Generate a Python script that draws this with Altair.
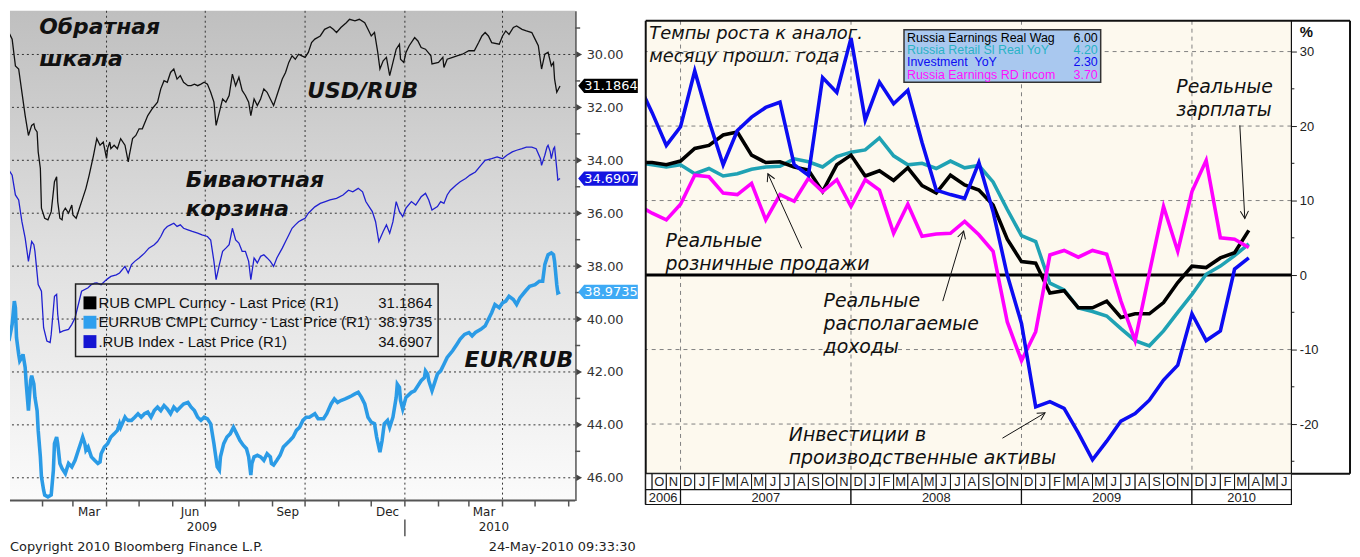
import math
import altair as alt
import pandas as pd

# =====================================================================
# LEFT PANEL (Bloomberg): USD/RUB, EUR/RUB, basket - inverted scale
# =====================================================================
START_DATE = "2009-01-01"  # day counts below are days since this date

USD_DAYS = [0, 3, 6, 9, 12, 15, 18, 21, 23, 24, 26, 27, 29, 30, 33, 36, 39, 42, 44, 45,
            47, 49, 50, 52, 55, 58, 59, 62, 65, 68, 71, 74, 78, 81, 84, 87, 90, 91, 93, 94,
            97, 100, 103, 107, 110, 111, 114, 117, 120, 123, 128, 132, 137, 140, 143, 146, 149, 152, 155, 158,
            161, 165, 168, 171, 174, 177, 180, 183, 186, 189, 191, 194, 197, 200, 203, 206, 209, 212, 215, 218,
            221, 223, 226, 229, 232, 235, 238, 241, 244, 247, 252, 255, 258, 261, 264, 267, 270, 273, 276, 279,
            282, 287, 291, 296, 299, 302, 306, 311, 314, 319, 323, 328, 331, 334, 337, 340, 342, 345, 348, 351,
            354, 357, 360, 361, 364, 366, 369, 374, 377, 380, 384, 389, 390, 396, 400, 401, 404, 409, 413, 418,
            424, 429, 433, 436, 439, 442, 445, 452, 455, 458, 461, 465, 468, 473, 477, 482, 485, 488, 491, 494,
            497, 500, 502, 503, 505, 508]
USD_RUB = [29.17, 29.42, 30.43, 30.55, 31.43, 32.31, 33.06, 32.68, 32.62, 32.81, 32.93, 33.68, 34.31, 35.81, 36.19, 36.25, 35.94, 34.81, 34.62, 35.56,
           36.19, 36.25, 35.94, 35.81, 36.00, 35.69, 36.07, 36.19, 35.81, 35.44, 35.06, 34.56, 33.81, 33.18, 33.43, 33.31, 33.93, 33.56, 33.31, 33.56,
           33.43, 33.56, 33.18, 33.43, 34.06, 33.81, 33.18, 33.06, 32.81, 32.81, 32.31, 32.06, 31.80, 31.30, 30.99, 31.05, 30.68, 30.55, 30.93, 30.80,
           31.05, 31.18, 31.18, 31.12, 31.18, 31.12, 31.05, 31.12, 31.43, 31.80, 32.68, 32.18, 31.68, 31.80, 31.55, 30.74, 31.18, 30.86, 31.36, 31.55,
           31.80, 32.31, 31.68, 31.93, 31.68, 31.30, 31.43, 31.68, 31.93, 31.55, 30.93, 30.68, 30.30, 30.05, 30.18, 29.99, 30.05, 30.11, 29.92, 29.55,
           29.42, 29.30, 29.05, 28.95, 29.05, 29.17, 28.98, 28.80, 28.67, 28.73, 28.67, 28.80, 29.05, 29.30, 29.17, 29.92, 30.55, 30.24, 30.11, 30.80,
           30.30, 29.80, 29.61, 30.18, 30.30, 29.92, 29.67, 29.36, 29.49, 29.74, 29.80, 30.05, 30.36, 30.30, 30.11, 30.49, 30.18, 30.11, 30.05, 29.99,
           29.86, 29.86, 29.55, 29.30, 29.17, 29.30, 29.55, 29.61, 29.30, 29.11, 29.24, 28.98, 28.92, 29.05, 29.11, 29.17, 29.42, 29.67, 30.55, 29.99,
           29.92, 30.43, 30.30, 30.93, 31.43, 31.19]

BASKET_DAYS = [0, 3, 6, 9, 12, 15, 18, 21, 23, 24, 27, 30, 32, 35, 38, 39, 42, 44, 45, 47,
               50, 55, 58, 61, 67, 73, 76, 79, 81, 85, 90, 94, 99, 102, 107, 110, 113, 116, 120, 125,
               129, 134, 137, 140, 143, 146, 149, 152, 155, 158, 161, 165, 169, 174, 178, 183, 186, 189, 191, 194,
               197, 200, 203, 206, 209, 212, 215, 218, 221, 223, 226, 229, 232, 235, 238, 241, 244, 247, 252, 255,
               258, 261, 264, 267, 270, 273, 276, 279, 282, 287, 291, 296, 302, 308, 313, 317, 322, 326, 329, 332,
               335, 338, 341, 345, 348, 351, 354, 357, 360, 363, 366, 371, 375, 380, 384, 387, 390, 395, 398, 401,
               404, 407, 412, 416, 421, 425, 430, 435, 439, 445, 450, 455, 459, 464, 468, 473, 477, 482, 486, 490,
               491, 494, 496, 497, 499, 500, 502, 503, 505, 506, 508]
BASKET = [34.37, 34.56, 35.31, 35.50, 36.32, 36.94, 37.82, 37.07, 37.19, 37.44, 38.70, 38.95, 40.33, 40.83, 40.89, 40.58, 39.14, 39.07, 39.82, 40.51,
          40.45, 40.39, 40.20, 39.95, 38.95, 38.82, 38.70, 38.64, 38.63, 38.70, 38.51, 38.39, 38.33, 38.26, 38.01, 38.26, 37.94, 37.82, 37.69, 37.51,
          37.32, 37.19, 37.07, 36.88, 36.63, 36.50, 36.44, 36.38, 36.50, 36.44, 36.57, 36.63, 36.69, 36.75, 36.82, 36.88, 37.01, 37.82, 38.51, 37.94,
          37.44, 37.32, 37.19, 36.57, 37.01, 37.13, 37.44, 37.44, 37.82, 38.51, 37.69, 37.88, 37.63, 37.57, 37.69, 37.82, 38.01, 37.69, 37.32, 37.07,
          36.82, 36.57, 36.44, 36.32, 36.25, 36.19, 36.00, 35.88, 35.76, 35.63, 35.57, 35.50, 35.44, 35.31, 35.13, 35.19, 35.06, 35.19, 35.56, 35.75,
          35.94, 36.32, 37.07, 36.69, 36.44, 36.76, 36.32, 35.56, 35.94, 36.13, 35.81, 35.56, 35.69, 35.38, 35.25, 35.50, 35.88, 35.75, 35.56, 35.63,
          35.31, 35.13, 34.94, 34.81, 34.69, 34.56, 34.44, 34.19, 34.00, 33.94, 33.87, 33.94, 33.81, 33.68, 33.62, 33.56, 33.50, 33.50, 33.56, 33.94,
          34.19, 33.81, 33.50, 33.43, 33.68, 33.94, 33.56, 33.50, 34.31, 34.75, 34.69]

EUR_DAYS = [0, 3, 5, 6, 7, 9, 10, 12, 13, 15, 16, 18, 20, 21, 23, 24, 26, 27, 29, 30,
            32, 33, 36, 39, 41, 42, 44, 45, 47, 49, 52, 53, 55, 58, 61, 64, 67, 68, 70, 71,
            73, 76, 79, 82, 84, 85, 88, 91, 94, 97, 100, 102, 103, 107, 108, 110, 113, 116, 119, 122,
            125, 128, 131, 134, 137, 140, 143, 146, 149, 152, 155, 158, 161, 165, 168, 171, 174, 177, 180, 183,
            186, 189, 192, 194, 195, 198, 201, 204, 207, 210, 213, 216, 219, 221, 223, 224, 226, 229, 232, 235,
            238, 241, 242, 244, 247, 250, 253, 256, 259, 262, 265, 268, 271, 274, 277, 282, 285, 290, 293, 297,
            300, 303, 306, 310, 313, 316, 319, 322, 325, 328, 331, 334, 337, 339, 342, 344, 346, 349, 351, 354,
            357, 358, 360, 361, 363, 366, 371, 374, 377, 380, 383, 384, 386, 387, 390, 392, 395, 398, 401, 404,
            409, 413, 416, 420, 424, 427, 430, 435, 439, 442, 445, 448, 452, 455, 458, 461, 465, 468, 471, 476,
            480, 485, 489, 492, 494, 496, 497, 500, 502, 503, 505, 506, 508]
EUR_RUB = [40.83, 40.20, 39.32, 39.57, 40.70, 41.33, 41.58, 41.45, 41.33, 41.83, 42.46, 43.46, 42.33, 42.14, 42.46, 42.96, 43.46, 44.21, 45.21, 45.96,
           46.47, 46.65, 46.72, 46.65, 45.71, 44.71, 44.46, 44.71, 45.46, 45.65, 45.84, 45.71, 45.46, 45.59, 45.34, 44.96, 44.59, 44.46, 44.71, 44.96,
           44.84, 45.21, 45.34, 45.46, 45.40, 45.09, 44.84, 44.71, 44.46, 44.34, 44.21, 43.96, 44.09, 43.71, 43.77, 43.83, 43.83, 43.71, 43.58, 43.71,
           43.58, 43.52, 43.71, 43.46, 43.33, 43.46, 43.27, 43.40, 43.58, 43.33, 43.46, 43.33, 43.21, 43.15, 43.33, 43.46, 43.71, 43.83, 43.71, 43.77,
           43.96, 44.71, 45.59, 45.71, 45.21, 44.71, 44.46, 44.34, 44.09, 44.34, 44.59, 44.77, 44.90, 45.21, 45.90, 45.46, 45.21, 45.15, 45.21, 45.34,
           45.09, 45.21, 45.46, 45.52, 45.34, 45.15, 44.84, 44.71, 44.59, 44.46, 44.21, 44.09, 43.83, 43.71, 43.71, 43.58, 43.77, 43.77, 43.58, 43.21,
           43.02, 43.15, 43.08, 43.02, 42.96, 42.90, 42.83, 42.77, 42.96, 43.21, 43.71, 43.90, 43.96, 44.46, 45.03, 44.59, 43.96, 43.83, 44.09, 43.71,
           42.96, 42.46, 42.58, 43.08, 43.40, 42.96, 42.77, 42.71, 42.52, 42.33, 42.21, 41.96, 42.08, 42.33, 42.71, 42.46, 42.08, 41.96, 41.71, 41.45,
           41.20, 40.95, 40.76, 40.58, 40.51, 40.64, 40.51, 40.39, 40.26, 40.01, 39.76, 39.45, 39.57, 39.39, 39.32, 39.14, 39.26, 39.45, 39.20, 38.95,
           38.76, 38.70, 38.57, 38.57, 37.94, 37.69, 37.57, 37.50, 37.57, 37.82, 38.70, 39.01, 38.97]

LAST_USD, LAST_EUR, LAST_BASKET = 31.1864, 38.9735, 34.6907

LEFT_Y_TICKS = [30, 32, 34, 36, 38, 40, 42, 44, 46]
LEFT_Y_MINOR = [29, 31, 33, 35, 37, 39, 41, 43, 45]
MONTH_STARTS = ["2009-02-01", "2009-03-01", "2009-04-01", "2009-05-01", "2009-06-01", "2009-07-01",
                "2009-08-01", "2009-09-01", "2009-10-01", "2009-11-01", "2009-12-01", "2010-01-01",
                "2010-02-01", "2010-03-01", "2010-04-01", "2010-05-01", "2010-06-01"]
GRID_DATES = ["2009-04-01", "2009-07-01", "2009-10-01", "2010-01-01", "2010-04-01"]
X_LABEL_DATES = ["2009-03-16", "2009-06-17", "2009-09-15", "2009-12-16", "2010-03-15"]
X_LABELS = ["Mar", "Jun", "Sep", "Dec", "Mar"]
YEAR_LABEL_DATES = ["2009-06-28", "2010-03-24"]
YEAR_LABELS = ["2009", "2010"]
YEAR_SEP_DATES = ["2010-01-01"]
LEFT_LEGEND = ["RUB CMPL Curncy - Last Price (R1)",
               "EURRUB CMPL Curncy - Last Price (R1)",
               ".RUB Index - Last Price (R1)"]
LEFT_LEGEND_VALUES = [LAST_USD, LAST_EUR, LAST_BASKET]
LEFT_COLORS = ["#000000", "#2e9fee", "#1414d2"]

# =====================================================================
# RIGHT PANEL (Excel): y/y growth rates, monthly
# =====================================================================
MONTH_T = list(range(-3, 41))   # month index; 0 = start of the "2007" block
WAGES = [15.1, 15.1, 14.8, 15.3, 17.0, 17.4, 18.8, 19.2, 16.1, 15.1,
         15.2, 14.5, 14.1, 11.2, 14.8, 16.1, 13.3, 14.0, 12.7, 14.4,
         12.0, 11.0, 13.4, 12.1, 11.4, 9.4, 4.8, 1.8, 1.6, -2.4,
         -2.1, -4.4, -4.4, -3.5, -5.7, -5.2, -5.2, -3.7, -1.0, 1.2,
         1.0, 2.3, 3.0, 6.0]
RETAIL = [15.1, 14.8, 14.5, 14.8, 13.6, 14.3, 13.3, 13.6, 14.2, 14.5,
          14.6, 15.6, 15.2, 14.5, 15.9, 16.5, 16.8, 18.4, 16.0, 14.8,
          15.0, 14.3, 15.3, 14.4, 14.7, 12.5, 8.8, 5.3, 4.5, -1.1,
          -2.0, -4.4, -4.9, -5.5, -7.2, -8.8, -9.5, -7.5, -5.0, -2.6,
          0.1, 1.2, 2.6, 4.2]
INVEST = [25.8, 21.8, 17.4, 19.9, 27.4, 20.7, 14.8, 19.4, 21.2, 22.5,
          23.2, 14.8, 13.4, 26.5, 24.5, 31.8, 20.8, 25.9, 23.0, 24.8,
          17.8, 11.4, 10.8, 10.3, 15.1, 8.5, 0.0, -6.5, -17.7, -17.0,
          -17.9, -21.2, -24.8, -22.3, -19.6, -18.6, -16.8, -14.1, -12.1, -5.2,
          -8.8, -7.5, 0.8, 2.3]
INCOME = [9.4, 8.3, 7.4, 9.5, 13.4, 13.2, 11.0, 10.8, 12.3, 7.4,
          10.8, 9.9, 13.0, 11.2, 12.8, 9.2, 12.8, 11.4, 5.6, 9.5,
          5.2, 5.5, 5.6, 7.2, 5.4, 3.2, -6.3, -11.5, -7.6, 2.7,
          3.3, 2.4, 3.3, 2.8, -3.5, -8.8, 0.3, 9.2, 3.2, 11.2,
          15.4, 5.0, 4.8, 3.7]
SERIES_NAMES = ["Russia Earnings Real Wag", "Russia Retail Sl Real YoY",
                "Investment\u00a0\u00a0YoY", "Russia Earnings RD incom"]
SERIES_COLORS = ["#000000", "#1fa2b4", "#0c0cf2", "#ff00ff"]
LEGEND_TEXT_COLORS = ["#000000", "#2ab3c6", "#0c0cf2", "#ff10ff"]
RIGHT_Y_TICKS = [30, 20, 10, 0, -10, -20]
RIGHT_Y_GRID = [30, 20, 10, -10, -20]
RIGHT_Y_MINOR = [25, 15, 5, -5, -15, -25]
MONTH_LETTERS = ["D", "J", "F", "M", "A", "M", "J", "J", "A", "S", "O", "N"]
YEARS = ["2006", "2007", "2008", "2009", "2010"]
YEAR_FROM = [-2.45, 0, 12, 24, 36]
YEAR_TO = [0, 12, 24, 36, 43]
V_GRID_T = [0, 12, 24, 36]

# ---------------------------------------------------------------------
BB_FONT = "DejaVu Sans"
XL_FONT = "Liberation Sans"
ONE = pd.DataFrame({"k": [0]})


def day(s):
    return int((pd.Timestamp(s) - pd.Timestamp(START_DATE)).days)


# ============================ LEFT ===================================
W1, H1 = 569, 493
LX = alt.Scale(domain=[1, 522], nice=False, zero=False)
LY = alt.Scale(domain=[28.35, 46.86], reverse=True, nice=False, zero=False)
LY_AXIS = alt.Axis(orient="right", values=LEFT_Y_TICKS, format=".2f", ticks=False,
                   labelPadding=11, domain=True, domainColor="#555555", domainWidth=2,
                   grid=False, title=None, labelFont=BB_FONT, labelFontSize=13,
                   labelColor="#333333")


def lx(f):
    return alt.X(f, type="quantitative", scale=LX, axis=None)


def ly(f):
    return alt.Y(f, type="quantitative", scale=LY, axis=LY_AXIS)


L = []
grad = alt.Gradient(gradient="linear",
                    stops=[alt.GradientStop(color="#bfbfbf", offset=0),
                           alt.GradientStop(color="#e0e0e0", offset=0.5),
                           alt.GradientStop(color="#fbfbfb", offset=1)],
                    x1=0, x2=0, y1=0, y2=1)
L.append(alt.Chart(ONE).mark_rect(color=grad).encode(
    x=alt.value(0), x2=alt.value(W1), y=alt.value(0), y2=alt.value(H1)))

L.append(alt.Chart(pd.DataFrame({"v": LEFT_Y_TICKS})).mark_rule(
    color="#333333", strokeDash=[2, 3], strokeWidth=1).encode(y=ly("v")))
L.append(alt.Chart(pd.DataFrame({"d": [day(s) for s in GRID_DATES]})).mark_rule(
    color="#333333", strokeDash=[2, 3], strokeWidth=1).encode(x=lx("d")))

L.append(alt.Chart(pd.DataFrame({"d": EUR_DAYS, "v": EUR_RUB})).mark_line(
    color="#2b9be6", strokeWidth=3.6, clip=True).encode(x=lx("d"), y=ly("v")))
L.append(alt.Chart(pd.DataFrame({"d": BASKET_DAYS, "v": BASKET})).mark_line(
    color="#2020d0", strokeWidth=1.3, clip=True).encode(x=lx("d"), y=ly("v")))
L.append(alt.Chart(pd.DataFrame({"d": USD_DAYS, "v": USD_RUB})).mark_line(
    color="#111111", strokeWidth=1.3, clip=True).encode(x=lx("d"), y=ly("v")))

# x axis (bottom)
L.append(alt.Chart(ONE).mark_rule(color="#555555", strokeWidth=2).encode(
    x=alt.value(0), x2=alt.value(W1), y=alt.value(H1)))
L.append(alt.Chart(pd.DataFrame({"d": [day(s) for s in MONTH_STARTS]})).mark_rule(
    color="#555555", strokeWidth=1.5).encode(x=lx("d"), y=alt.value(H1), y2=alt.value(H1 + 6)))
L.append(alt.Chart(pd.DataFrame({"d": [day(s) for s in X_LABEL_DATES], "t": X_LABELS})).mark_text(
    font=BB_FONT, fontSize=12, color="#222222", baseline="middle").encode(
    x=lx("d"), y=alt.value(H1 + 12), text="t:N"))
L.append(alt.Chart(pd.DataFrame({"d": [day(s) for s in YEAR_LABEL_DATES], "t": YEAR_LABELS})).mark_text(
    font=BB_FONT, fontSize=12, color="#222222", baseline="middle").encode(
    x=lx("d"), y=alt.value(H1 + 27), text="t:N"))
L.append(alt.Chart(pd.DataFrame({"d": [day(s) for s in YEAR_SEP_DATES]})).mark_rule(
    color="#555555", strokeWidth=1.5).encode(x=lx("d"), y=alt.value(H1 + 19), y2=alt.value(H1 + 36)))

# y axis decorations (right)
L.append(alt.Chart(pd.DataFrame({"v": LEFT_Y_TICKS})).mark_point(
    shape="triangle-right", filled=True, size=45, color="#444444", opacity=1).encode(
    y=ly("v"), x=alt.value(W1 + 4)))
L.append(alt.Chart(pd.DataFrame({"v": LEFT_Y_MINOR})).mark_rule(color="#555555", strokeWidth=1.5).encode(
    y=ly("v"), x=alt.value(W1), x2=alt.value(W1 + 5)))

TAG_PATH = "M -1 0 L -0.8 -0.24 L 1 -0.24 L 1 0.24 L -0.8 0.24 Z"
for val, col in [(LAST_USD, "#000000"), (LAST_BASKET, "#1414e0"), (LAST_EUR, "#3eaaf5")]:
    d = pd.DataFrame({"v": [val], "t": [f"{val:.4f}"]})
    L.append(alt.Chart(d).mark_point(shape=TAG_PATH, filled=True, size=3600, color=col,
                                     opacity=1, strokeWidth=0).encode(x=alt.value(W1 + 33), y=ly("v")))
    L.append(alt.Chart(d).mark_text(font=BB_FONT, fontSize=13, color="white", align="center",
                                    baseline="middle").encode(x=alt.value(W1 + 36), y=ly("v"), text="t:N"))

# legend box
L.append(alt.Chart(ONE).mark_rect(filled=False, color="#222222", strokeWidth=1.5).encode(
    x=alt.value(66), x2=alt.value(431), y=alt.value(275), y2=alt.value(348)))
for i, (name, val, col) in enumerate(zip(LEFT_LEGEND, LEFT_LEGEND_VALUES, LEFT_COLORS)):
    yc = 294 + i * 19.5
    d = pd.DataFrame({"n": [name], "v": [f"{val:.4f}"]})
    L.append(alt.Chart(ONE).mark_rect(color=col).encode(
        x=alt.value(74), x2=alt.value(87), y=alt.value(yc - 6.5), y2=alt.value(yc + 6.5)))
    L.append(alt.Chart(d).mark_text(font=XL_FONT, fontSize=15, color="#111111", align="left",
                                    baseline="middle").encode(x=alt.value(89), y=alt.value(yc), text="n:N"))
    L.append(alt.Chart(d).mark_text(font=XL_FONT, fontSize=15, color="#111111", align="right",
                                    baseline="middle").encode(x=alt.value(425), y=alt.value(yc), text="v:N"))

# big labels
BIG = pd.DataFrame({
    "d": [28, 28, 275, 163, 163, 420],
    "v": [28.98, 30.19, 31.39, 34.74, 35.83, 41.54],
    "t": ["Обратная", "шкала", "USD/RUB", "Биваютная", "корзина", "EUR/RUB"],
})
L.append(alt.Chart(BIG).mark_text(font=BB_FONT, fontSize=22, fontWeight="bold", fontStyle="italic",
                                  color="#111111", align="left", baseline="middle").encode(
    x=lx("d"), y=ly("v"), text="t:N"))

L.append(alt.Chart(ONE).mark_text(text="Copyright 2010 Bloomberg Finance L.P.", font=BB_FONT, fontSize=13,
                                  color="#222222", align="left", baseline="middle").encode(
    x=alt.value(0), y=alt.value(540)))
L.append(alt.Chart(ONE).mark_text(text="24-May-2010 09:33:30", font=BB_FONT, fontSize=13,
                                  color="#222222", align="right", baseline="middle").encode(
    x=alt.value(630), y=alt.value(540)))

left = alt.layer(*L).properties(width=W1, height=H1)

# ============================ RIGHT ==================================
W2, H2 = 650, 466
T_MIN, T_MAX = -2.45, 43
V_MIN, V_MAX = -26.67, 35.47
TOP = 10
RX = alt.Scale(domain=[T_MIN, T_MAX], nice=False, zero=False)
RY = alt.Scale(domain=[V_MIN, V_MAX], nice=False, zero=False)
RY_AXIS = alt.Axis(orient="right", values=RIGHT_Y_TICKS, labelExpr="'' + datum.value",
                   tickSize=5, tickColor="#222222", tickWidth=1, labelPadding=3, domain=False,
                   grid=False, title=None, labelFont=XL_FONT, labelFontSize=13,
                   labelColor="#222222")
PX_T = W2 / (T_MAX - T_MIN)
PX_V = H2 / (V_MAX - V_MIN)


def rx(f):
    return alt.X(f, type="quantitative", scale=RX, axis=None)


def ry(f):
    return alt.Y(f, type="quantitative", scale=RY, axis=RY_AXIS)


R = []
R.append(alt.Chart(ONE).mark_rect(color="#fdf9ee").encode(
    x=alt.value(0), x2=alt.value(W2), y=alt.value(TOP), y2=alt.value(H2)))
R.append(alt.Chart(pd.DataFrame({"v": RIGHT_Y_GRID})).mark_rule(
    color="#808080", strokeDash=[4, 4], strokeWidth=1).encode(y=ry("v")))
R.append(alt.Chart(pd.DataFrame({"t": V_GRID_T})).mark_rule(
    color="#808080", strokeDash=[4, 4], strokeWidth=1).encode(
    x=rx("t"), y=alt.value(TOP), y2=alt.value(H2)))
R.append(alt.Chart(pd.DataFrame({"v": [0]})).mark_rule(color="#000000", strokeWidth=3).encode(y=ry("v")))

for vals, col in [(RETAIL, SERIES_COLORS[1]), (WAGES, SERIES_COLORS[0]),
                  (INCOME, SERIES_COLORS[3]), (INVEST, SERIES_COLORS[2])]:
    R.append(alt.Chart(pd.DataFrame({"t": MONTH_T, "v": vals})).mark_line(
        color=col, strokeWidth=3.6, clip=True).encode(x=rx("t"), y=ry("v")))

R.append(alt.Chart(pd.DataFrame({"v": RIGHT_Y_MINOR})).mark_rule(color="#222222", strokeWidth=1).encode(
    y=ry("v"), x=alt.value(W2), x2=alt.value(W2 + 3)))

# frame
for (xa, ya, xb, yb, sw) in [(0, TOP, W2 + 59, TOP, 2), (W2 + 59, TOP, W2 + 59, H2, 2),
                             (W2, H2, W2 + 59, H2, 2), (W2, TOP, W2, H2, 1.2),
                             (0, TOP, 0, H2 + 31, 2), (0, H2, W2, H2, 2)]:
    if ya == yb:
        enc = dict(x=alt.value(xa), x2=alt.value(xb), y=alt.value(ya))
    else:
        enc = dict(x=alt.value(xa), y=alt.value(ya), y2=alt.value(yb))
    R.append(alt.Chart(ONE).mark_rule(color="#111111", strokeWidth=sw).encode(**enc))

R.append(alt.Chart(ONE).mark_text(text="%", font=XL_FONT, fontSize=15, fontWeight="bold",
                                  color="#111111", baseline="middle").encode(
    x=alt.value(W2 + 15), y=alt.value(21)))

# month / year table
cells = []
for k in range(-3, 43):
    a = max(k, T_MIN)
    cells.append({"a": a, "b": k + 1, "c": (a + k + 1) / 2,
                  "m": MONTH_LETTERS[k % 12] if k >= -2 else ""})
cells = pd.DataFrame(cells)
R.append(alt.Chart(cells).mark_rect(fill="white", stroke="#111111", strokeWidth=1).encode(
    x=rx("a"), x2="b:Q", y=alt.value(H2), y2=alt.value(H2 + 16)))
R.append(alt.Chart(cells).mark_text(font=XL_FONT, fontSize=13, color="#222222", baseline="middle").encode(
    x=rx("c"), y=alt.value(H2 + 8.5), text="m:N"))
years = pd.DataFrame({"a": YEAR_FROM, "b": YEAR_TO, "y": YEARS,
                      "c": [(a + b) / 2 for a, b in zip(YEAR_FROM, YEAR_TO)]})
R.append(alt.Chart(years).mark_rect(fill="white", stroke="#111111", strokeWidth=1.2).encode(
    x=rx("a"), x2="b:Q", y=alt.value(H2 + 16), y2=alt.value(H2 + 31)))
R.append(alt.Chart(years).mark_text(font=XL_FONT, fontSize=13, color="#222222", baseline="middle").encode(
    x=rx("c"), y=alt.value(H2 + 24), text="y:N"))

# series legend box
R.append(alt.Chart(ONE).mark_rect(color="#a9c8ef", stroke="#333333", strokeWidth=1.5).encode(
    x=alt.value(260), x2=alt.value(458), y=alt.value(19), y2=alt.value(72)))
lasts = [WAGES[-1], RETAIL[-1], INVEST[-1], INCOME[-1]]
for i, (name, val, col) in enumerate(zip(SERIES_NAMES, lasts, LEGEND_TEXT_COLORS)):
    yc = 27 + i * 12.4
    d = pd.DataFrame({"n": [name], "v": [f"{val:.2f}"]})
    R.append(alt.Chart(d).mark_text(font=XL_FONT, fontSize=12.5, color=col, align="left",
                                    baseline="middle").encode(x=alt.value(263), y=alt.value(yc), text="n:N"))
    R.append(alt.Chart(d).mark_text(font=XL_FONT, fontSize=12.5, color=col, align="right",
                                    baseline="middle").encode(x=alt.value(455), y=alt.value(yc), text="v:N"))

# annotations
ANNOTATIONS = [
    (["Темпы роста к аналог.", "месяцу прошл. года"], -2.2, 32.4, 18),
    (["Реальные", "зарплаты"], 34.9, 25.2, 19),
    (["Реальные", "розничные продажи"], -1.05, 4.5, 19),
    (["Реальные", "располагаемые", "доходы"], 10.07, -3.5, 19),
    (["Инвестиции в", "производственные активы"], 7.62, -21.5, 19),
]
STEP = 23 / PX_V
for lines, t0, v0, fs in ANNOTATIONS:
    d = pd.DataFrame({"t": [t0] * len(lines), "v": [v0 - i * STEP for i in range(len(lines))], "s": lines})
    R.append(alt.Chart(d).mark_text(font=BB_FONT, fontSize=fs, fontStyle="italic", color="#111111",
                                    align="left", baseline="middle").encode(x=rx("t"), y=ry("v"), text="s:N"))

ARROWS = [(39.37, 20.1, 39.72, 7.6), (8.53, 3.6, 6.15, 13.6),
          (18.46, -3.5, 19.93, 5.9), (22.66, -21.9, 25.66, -18.5)]
arr = pd.DataFrame(ARROWS, columns=["t1", "v1", "t2", "v2"])
R.append(alt.Chart(arr).mark_rule(color="#111111", strokeWidth=1).encode(
    x=rx("t1"), x2="t2:Q", y=ry("v1"), y2="v2:Q"))
V_PATH = "M -0.55 1 L 0 0 L 0.55 1"
for t1, v1, t2, v2 in ARROWS:
    dx = (t2 - t1) * PX_T
    dy = -(v2 - v1) * PX_V
    ang = math.degrees(math.atan2(dx, -dy)) % 360
    R.append(alt.Chart(pd.DataFrame({"t": [t2], "v": [v2]})).mark_point(
        shape=V_PATH, filled=False, size=220, angle=ang, color="#111111", strokeWidth=1, opacity=1).encode(
        x=rx("t"), y=ry("v")))

right = alt.layer(*R).properties(width=W2, height=H2)

chart = alt.hconcat(left, right, spacing=71, bounds="flush", padding=0).configure_view(stroke="transparent")
chart.save("out.html", embed_options={"renderer": "svg", "actions": False})
